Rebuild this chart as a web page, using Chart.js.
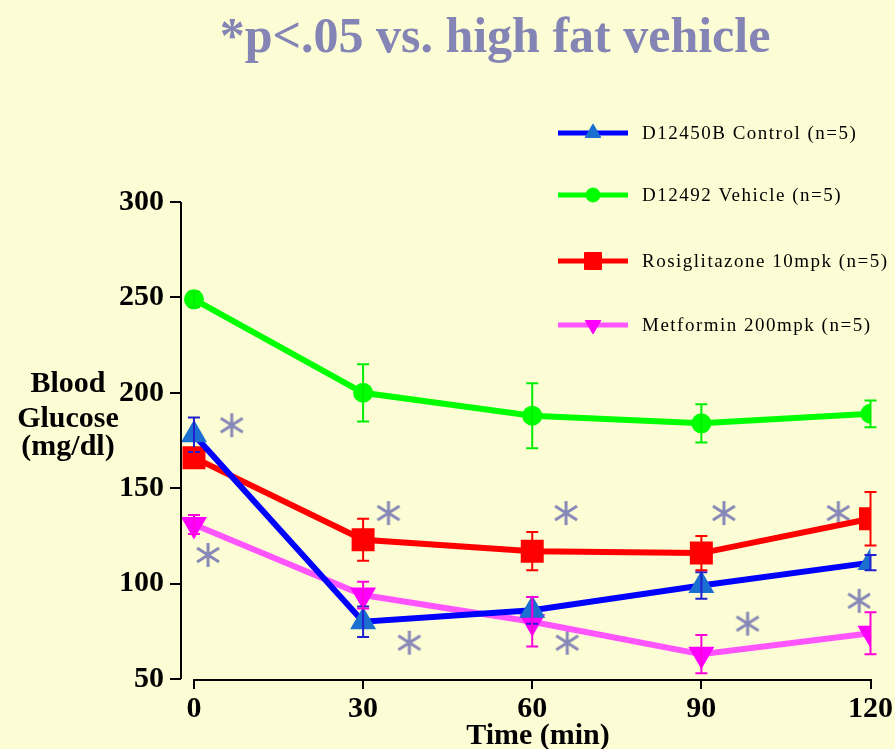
<!DOCTYPE html>
<html>
<head>
<meta charset="utf-8">
<script src="https://cdn.jsdelivr.net/npm/chart.js@4"></script>
<style>
  html, body { margin: 0; padding: 0; background: #fdfdd5; }
  #wrap { width: 895px; height: 749px; position: relative; }
</style>
</head>
<body>
<div id="wrap"><canvas id="glucoseChart"></canvas></div>
<script>
const timePoints = [0, 30, 60, 90, 120];
const xTicks = [0, 30, 60, 90, 120];
const yTicks = [50, 100, 150, 200, 250, 300];

const controlMean = [178, 80, 86, 99, 111];
const controlErr = [9, 8, 7, 7, 4];
const vehicleMean = [249, 200, 188, 184, 189];
const vehicleErr = [4, 15, 17, 10, 7];
const rosiMean = [166, 123, 117, 116, 134];
const rosiErr = [5, 11, 10, 9, 14];
const metforminMean = [131, 94, 80, 63, 74];
const metforminErr = [5, 7, 13, 10, 11];

// significance asterisks (x in min, y in mg/dL)
const sigX = [6.7, 2.5, 34.5, 38.2, 66, 66.2, 94, 98.2, 114.3, 118];
const sigY = [183, 115, 137, 69, 137, 69, 137, 79, 137, 91];

const titleText = "*p<.05 vs. high fat vehicle";
const seriesLabels = [
  "D12450B Control (n=5)",
  "D12492 Vehicle (n=5)",
  "Rosiglitazone 10mpk (n=5)",
  "Metformin 200mpk (n=5)",
];

const serif = "'Liberation Serif', 'DejaVu Serif', serif";

// asterisk marker
const star = document.createElement("canvas");
star.width = 26;
star.height = 26;
(function () {
  const c = star.getContext("2d");
  c.strokeStyle = "#8888b8";
  c.lineWidth = 3;
  c.beginPath();
  c.moveTo(13, 1); c.lineTo(13, 25);
  c.moveTo(2, 6); c.lineTo(24, 20);
  c.moveTo(2, 20); c.lineTo(24, 6);
  c.stroke();
})();

function pts(ys) {
  return timePoints.map((t, i) => ({ x: t, y: ys[i] }));
}

const series = [
  { label: seriesLabels[0], mean: controlMean, err: controlErr, line: "#0000ff", fill: "#1a6fd1", bar: "#2020d0", style: "triangle", radius: 9, rotation: 0 },
  { label: seriesLabels[1], mean: vehicleMean, err: vehicleErr, line: "#00ff00", fill: "#00ff00", bar: "#00ee00", style: "circle", radius: 7, rotation: 0 },
  { label: seriesLabels[2], mean: rosiMean, err: rosiErr, line: "#ff0000", fill: "#ff0000", bar: "#ff0000", style: "rect", radius: 12, rotation: 0 },
  { label: seriesLabels[3], mean: metforminMean, err: metforminErr, line: "#ff55ff", fill: "#ff00ff", bar: "#ff00dd", style: "triangle", radius: 9, rotation: 180 },
];

const extrasPlugin = {
  id: "extras",
  afterDatasetsDraw(chart) {
    const ctx = chart.ctx;
    const xs = chart.scales.x;
    const ys = chart.scales.y;
    // error bars
    ctx.save();
    series.forEach((s) => {
      ctx.strokeStyle = s.bar;
      ctx.lineWidth = 2;
      s.mean.forEach((m, i) => {
        const px = xs.getPixelForValue(timePoints[i]);
        const top = ys.getPixelForValue(m + s.err[i]);
        const bot = ys.getPixelForValue(m - s.err[i]);
        ctx.beginPath();
        ctx.moveTo(px, top); ctx.lineTo(px, bot);
        ctx.moveTo(px - 6, top); ctx.lineTo(px + 6, top);
        ctx.moveTo(px - 6, bot); ctx.lineTo(px + 6, bot);
        ctx.stroke();
      });
    });
    ctx.restore();
  },
  afterDraw(chart) {
    const ctx = chart.ctx;
    const xs = chart.scales.x;
    const ys = chart.scales.y;
    ctx.save();
    // axes lines
    ctx.strokeStyle = "#000";
    ctx.lineWidth = 2;
    ctx.beginPath();
    const ax = chart.chartArea.left;
    ctx.moveTo(ax, ys.getPixelForValue(300));
    ctx.lineTo(ax, ys.getPixelForValue(50));
    const ay = chart.chartArea.bottom + 1;
    ctx.moveTo(xs.getPixelForValue(0), ay);
    ctx.lineTo(xs.getPixelForValue(120), ay);
    ctx.stroke();

    // title
    ctx.fillStyle = "#8585b5";
    ctx.font = "bold 50px " + serif;
    ctx.textAlign = "center";
    ctx.textBaseline = "alphabetic";
    ctx.fillText(titleText, 495, 52);

    // y axis title
    ctx.fillStyle = "#000";
    ctx.font = "bold 30px " + serif;
    ctx.fillText("Blood", 68, 392);
    ctx.fillText("Glucose", 68, 427);
    ctx.fillText("(mg/dl)", 68, 455);

    // x axis title
    ctx.fillText("Time (min)", 538, 744);

    // legend
    const rows = [133, 195, 261, 325];
    ctx.textAlign = "left";
    ctx.textBaseline = "middle";
    ctx.font = "19px " + serif;
    ctx.letterSpacing = "1.5px";
    series.forEach((s, i) => {
      const y = rows[i];
      ctx.strokeStyle = s.line;
      ctx.lineWidth = 5;
      ctx.beginPath();
      ctx.moveTo(558, y); ctx.lineTo(628, y);
      ctx.stroke();
      ctx.fillStyle = s.fill;
      ctx.strokeStyle = s.fill;
      ctx.lineWidth = 1;
      Chart.helpers.drawPoint(ctx, { pointStyle: s.style, radius: s.radius, rotation: s.rotation, borderWidth: 1 }, 593, y);
      ctx.fillStyle = "#000";
      ctx.fillText(s.label, 642, y + 1);
    });
    ctx.restore();
  },
};

const datasets = series.map((s) => ({
  label: s.label,
  data: pts(s.mean),
  borderColor: s.line,
  backgroundColor: s.fill,
  pointBackgroundColor: s.fill,
  pointBorderColor: s.fill,
  pointStyle: s.style,
  pointRadius: s.radius,
  pointRotation: s.rotation,
  borderWidth: 6,
  tension: 0,
}));

datasets.push({
  label: "p<.05",
  data: sigX.map((x, i) => ({ x: x, y: sigY[i] })),
  showLine: false,
  pointStyle: star,
  pointRadius: 13,
});

new Chart(document.getElementById("glucoseChart"), {
  type: "line",
  data: { datasets: datasets },
  plugins: [extrasPlugin],
  options: {
    responsive: true,
    maintainAspectRatio: false,
    animation: false,
    layout: { padding: { top: 202, right: 23, bottom: 0, left: 0 } },
    plugins: {
      legend: { display: false },
      tooltip: { enabled: false },
      title: { display: false },
    },
    scales: {
      x: {
        type: "linear",
        min: -2.3,
        max: 120,
        afterBuildTicks: (sc) => { sc.ticks = xTicks.map((v) => ({ value: v })); },
        afterFit: (sc) => { sc.height = 70; },
        border: { display: false },
        grid: { drawOnChartArea: false, drawTicks: true, tickLength: 10, color: "#000", lineWidth: 2 },
        ticks: { color: "#000", padding: 2, maxRotation: 0, font: { family: serif, size: 30, weight: "bold" } },
      },
      y: {
        min: 50,
        max: 300,
        afterBuildTicks: (sc) => { sc.ticks = yTicks.map((v) => ({ value: v })); },
        afterFit: (sc) => { sc.width = 181; },
        border: { display: false },
        grid: { drawOnChartArea: false, drawTicks: true, tickLength: 11, color: "#000", lineWidth: 2 },
        ticks: { color: "#000", padding: 6, font: { family: serif, size: 30, weight: "bold" } },
      },
    },
  },
});
</script>
</body>
</html>
